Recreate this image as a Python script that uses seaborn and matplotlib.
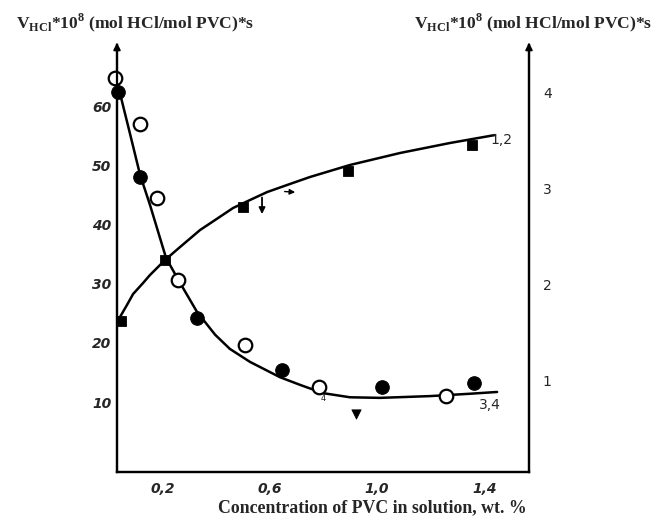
import matplotlib
matplotlib.use("Agg")
import matplotlib.pyplot as plt
import seaborn as sns
import pandas as pd

# --- data -------------------------------------------------------------
# rising curve 1,2 (right axis): filled squares and the drawn trend line
conc_sq = [0.045, 0.209, 0.500, 0.892, 1.354]
rate_sq = [1.62, 2.25, 2.80, 3.18, 3.45]
curve12_x = [0.041, 0.067, 0.090, 0.127, 0.153, 0.209, 0.265, 0.340, 0.396, 0.463,
             0.526, 0.590, 0.675, 0.750, 0.899, 1.086, 1.272, 1.440]
curve12_y = [1.656, 1.781, 1.896, 2.010, 2.094, 2.250, 2.385, 2.563, 2.667, 2.792,
             2.875, 2.958, 3.042, 3.115, 3.240, 3.365, 3.469, 3.552]

# falling curve 3,4 (left axis): open circles, filled circles, triangle
conc_open = [0.022, 0.116, 0.179, 0.257, 0.507, 0.784, 1.257]
rate_open = [64.9, 57.1, 44.6, 30.7, 19.7, 12.5, 11.0]
conc_fill = [0.034, 0.116, 0.328, 0.646, 1.019, 1.362]
rate_fill = [62.5, 48.1, 24.2, 15.4, 12.5, 13.2]
conc_tri = [0.922]
rate_tri = [8.0]
curve34_x = [0.034, 0.075, 0.116, 0.153, 0.179, 0.213, 0.265, 0.328, 0.396, 0.451,
             0.526, 0.638, 0.713, 0.799, 0.899, 1.011, 1.198, 1.347, 1.448]
curve34_y = [63.6, 56.1, 48.5, 43.4, 39.5, 34.4, 30.2, 25.3, 21.4, 19.0,
             16.8, 14.2, 12.9, 11.5, 10.8, 10.7, 11.0, 11.4, 11.7]

x_ticks = [0.2, 0.6, 1.0, 1.4]
x_tick_labels = ["0,2", "0,6", "1,0", "1,4"]
left_ticks = [10, 20, 30, 40, 50, 60]
right_ticks = [1, 2, 3, 4]

y_title = r"V$_{\mathrm{HCl}}$*10$^{\mathrm{8}}$ (mol HCl/mol PVC)*s"
x_title = "Concentration of PVC in solution, wt. %"

# --- style ------------------------------------------------------------
sns.set_style("white")
plt.rcParams["mathtext.fontset"] = "custom"
plt.rcParams["mathtext.rm"] = "Liberation Serif:bold"
plt.rcParams["mathtext.bf"] = "Liberation Serif:bold"
plt.rcParams["lines.solid_joinstyle"] = "round"
plt.rcParams["lines.solid_capstyle"] = "round"

fig = plt.figure(figsize=(6.53, 5.16), dpi=100)
ax = fig.add_axes([0.1792, 0.0853, 0.6309, 0.8275])
ax2 = ax.twinx()

ax.set_xlim(0.030, 1.567)
ax.set_ylim(-1.86, 70.5)
ax2.set_ylim(0.042, 4.49)

lw = 1.8
for a in (ax, ax2):
    for s in a.spines.values():
        s.set_linewidth(1.6)
        s.set_color("black")
    a.spines["top"].set_visible(False)
    a.patch.set_visible(False)

# curve 3,4 on left axis
d34 = pd.DataFrame({"c": curve34_x, "v": curve34_y})
sns.lineplot(data=d34, x="c", y="v", ax=ax, color="black", lw=lw, sort=False, estimator=None)
sns.scatterplot(x=conc_open, y=rate_open, ax=ax, marker="o", s=95, facecolor="white",
                edgecolor="black", linewidth=1.6, zorder=5, clip_on=False)
sns.scatterplot(x=conc_fill, y=rate_fill, ax=ax, marker="o", s=95, color="black",
                edgecolor="black", zorder=5, clip_on=False)
sns.scatterplot(x=conc_tri, y=rate_tri, ax=ax, marker="v", s=45, color="black",
                edgecolor="black", zorder=5)

# curve 1,2 on right axis
d12 = pd.DataFrame({"c": curve12_x, "r": curve12_y})
sns.lineplot(data=d12, x="c", y="r", ax=ax2, color="black", lw=lw, sort=False, estimator=None)
sns.scatterplot(x=conc_sq, y=rate_sq, ax=ax2, marker="s", s=55, color="black",
                edgecolor="black", zorder=5, clip_on=False)

# small marks drawn along curve 1,2
ax2.annotate("", xy=(0.571, 2.70), xytext=(0.571, 2.93),
             arrowprops=dict(arrowstyle="-|>", color="black", lw=1.3, mutation_scale=9))
ax2.annotate("", xy=(0.705, 2.955), xytext=(0.645, 2.965),
             arrowprops=dict(arrowstyle="-|>", color="black", lw=1.0, mutation_scale=8))

# curve labels
ax2.text(1.425, 3.50, "1,2", fontsize=10, family="DejaVu Sans", va="center", ha="left")
ax.text(1.38, 9.5, "3,4", fontsize=10, family="DejaVu Sans", va="center", ha="left")
ax.text(0.80, 10.6, "4", fontsize=6, family="DejaVu Sans", va="center", ha="center")

# ticks
ax.set_xticks(x_ticks)
ax.set_xticklabels(x_tick_labels, fontsize=10, fontweight="bold", style="italic",
                   family="DejaVu Sans")
ax.set_yticks(left_ticks)
ax.set_yticklabels([str(t) for t in left_ticks], fontsize=10, fontweight="bold",
                   style="italic", family="DejaVu Sans")
ax.tick_params(axis="both", which="major", length=0)
ax.tick_params(axis="x", pad=7)
ax.tick_params(axis="y", pad=4)
ax.set_xticks([1.0], minor=True)
ax.set_yticks([40, 60], minor=True)
ax.tick_params(axis="both", which="minor", direction="in", length=9, width=1.3, color="black")

ax2.set_yticks(right_ticks)
ax2.set_yticklabels([str(t) for t in right_ticks], fontsize=10, family="DejaVu Sans")
ax2.tick_params(axis="y", which="major", length=0, pad=10)
ax2.set_yticks([3], minor=True)
ax2.tick_params(axis="y", which="minor", direction="in", length=9, width=1.3, color="black")

ax.set_xlabel("")
ax.set_ylabel("")
ax2.set_ylabel("")

# arrow heads at the top of both vertical axes
for xa in (0.0, 1.0):
    ax.annotate("", xy=(xa, 1.012), xytext=(xa, 0.99), xycoords="axes fraction",
                arrowprops=dict(arrowstyle="-|>", color="black", lw=1.4, mutation_scale=10))

# titles
fig.text(0.207, 0.955, y_title, fontsize=12.6, family="Liberation Serif", fontweight="bold",
         ha="center", va="center")
fig.text(0.817, 0.955, y_title, fontsize=12.6, family="Liberation Serif", fontweight="bold",
         ha="center", va="center")
fig.text(0.570, 0.0155, x_title, fontsize=12.8, family="Liberation Serif", fontweight="bold",
         ha="center", va="center")

fig.savefig("out.png", dpi=100)
